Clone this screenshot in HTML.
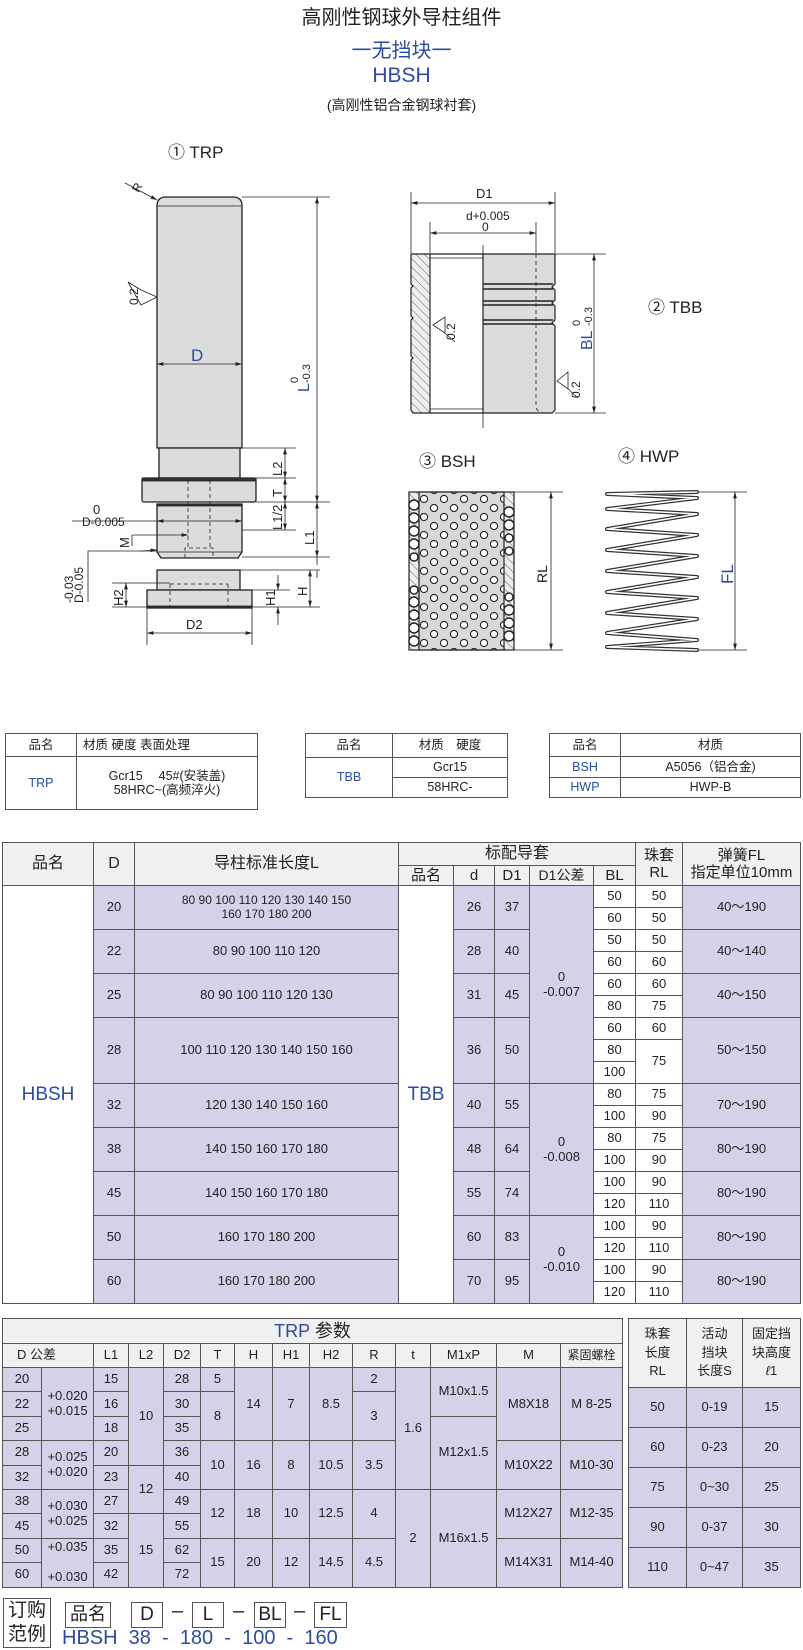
<!DOCTYPE html>
<html><head><meta charset="utf-8">
<style>
*{margin:0;padding:0;box-sizing:border-box}
body{width:803px;height:1650px;background:#fff;position:relative;overflow:hidden;font-family:"Liberation Sans","Noto Sans CJK SC",sans-serif;color:#222}
.t{position:absolute;left:0;width:803px;text-align:center;white-space:nowrap}
.blue{color:#2b4d9c}
table{position:absolute;border-collapse:collapse;table-layout:fixed;font-family:"Liberation Sans Narrow","Liberation Sans","Noto Sans CJK SC",sans-serif}
td{border:1px solid #555;text-align:center;vertical-align:middle;padding:0;overflow:hidden;white-space:nowrap;line-height:1.15}
.p{background:#d5d1e8}
.h{background:#f0f0f0}
.box{position:absolute;border:1.5px solid #555;text-align:center;font-family:"Liberation Sans Narrow","Liberation Sans","Noto Sans CJK SC",sans-serif}
</style></head><body>

<div class="t" style="top:1px;font-size:20px">高刚性钢球外导柱组件</div>
<div class="t blue" style="top:34px;font-size:20px">一无挡块一</div>
<div class="t blue" style="top:64px;font-size:21px">HBSH</div>
<div class="t" style="top:95px;font-size:14px">(高刚性铝合金钢球衬套)</div>

<svg style="position:absolute;left:0;top:0" width="803" height="700" viewBox="0 0 803 700" font-family="Liberation Sans, Noto Sans CJK SC, sans-serif">
<defs>
<marker id="a" viewBox="0 0 10 6" refX="10" refY="3" markerWidth="8" markerHeight="5" orient="auto-start-reverse"><path d="M0,0L10,3L0,6Z" fill="#222"/></marker>
<pattern id="hat" width="6" height="6" patternUnits="userSpaceOnUse" patternTransform="rotate(-45)"><rect width="6" height="6" fill="#eee"/><line x1="0" y1="0" x2="0" y2="6" stroke="#666" stroke-width="1"/></pattern>
<pattern id="holes" width="20" height="18" patternUnits="userSpaceOnUse" x="419" y="494"><rect width="20" height="18" fill="#d8d8d8"/><circle cx="5" cy="5" r="3.6" fill="#fff" stroke="#222" stroke-width="1.1"/><circle cx="15" cy="14" r="3.6" fill="#fff" stroke="#222" stroke-width="1.1"/></pattern>
</defs>
<g stroke="#222" stroke-width="0.8" fill="none">
<!-- TRP -->
<path d="M157,448V206Q157,197 166,197H233Q242,197 242,206V448Z" fill="#dcdcdc" stroke-width="1.3"/>
<line x1="157" y1="206" x2="242" y2="206"/>
<rect x="159" y="448" width="81" height="30" fill="#dcdcdc" stroke-width="1.3"/>
<rect x="142" y="478" width="114" height="24" rx="2" fill="#dcdcdc" stroke-width="1.3"/>
<rect x="142" y="478" width="114" height="3" fill="#333"/>
<path d="M157,504H242V552L238,558H161L157,552Z" fill="#dcdcdc" stroke-width="1.3"/>
<rect x="157" y="504" width="85" height="2" fill="#333"/>
<line x1="157" y1="552" x2="242" y2="552"/>
<g stroke-dasharray="4,3"><line x1="188" y1="480" x2="188" y2="548"/><line x1="210" y1="480" x2="210" y2="548"/><path d="M185,558V548H213V558"/><line x1="170" y1="582" x2="228" y2="582"/><line x1="170" y1="582" x2="170" y2="607"/><line x1="228" y1="582" x2="228" y2="607"/><line x1="184" y1="570" x2="184" y2="582"/><line x1="214" y1="570" x2="214" y2="582"/></g>
<rect x="157" y="570" width="83" height="20" fill="#dcdcdc" stroke-width="1.3"/>
<rect x="147" y="590" width="105" height="18" fill="#dcdcdc" stroke-width="1.3"/>
<rect x="147" y="606" width="105" height="2" fill="#333"/>
<g stroke-dasharray="4,3"><line x1="170" y1="584" x2="228" y2="584"/><line x1="170" y1="584" x2="170" y2="607"/><line x1="228" y1="584" x2="228" y2="607"/></g>
<!-- dims TRP -->
<line x1="242" y1="197" x2="330" y2="197"/>
<line x1="317" y1="197" x2="317" y2="502" marker-start="url(#a)" marker-end="url(#a)"/>
<line x1="240" y1="448" x2="296" y2="448"/><line x1="256" y1="478" x2="296" y2="478"/><line x1="256" y1="502" x2="330" y2="502"/>
<line x1="242" y1="530" x2="296" y2="530"/><line x1="242" y1="557" x2="330" y2="557"/>
<line x1="285" y1="448" x2="285" y2="478" marker-start="url(#a)" marker-end="url(#a)"/>
<line x1="285" y1="478" x2="285" y2="502" marker-start="url(#a)" marker-end="url(#a)"/>
<line x1="285" y1="502" x2="285" y2="530" marker-start="url(#a)" marker-end="url(#a)"/>
<line x1="317" y1="502" x2="317" y2="557" marker-start="url(#a)" marker-end="url(#a)"/>
<line x1="317" y1="557" x2="317" y2="565" /><line x1="317" y1="570" x2="317" y2="578"/>
<line x1="240" y1="570" x2="320" y2="570"/><line x1="252" y1="607" x2="320" y2="607"/><line x1="240" y1="590" x2="290" y2="590"/>
<line x1="310" y1="570" x2="310" y2="607" marker-start="url(#a)" marker-end="url(#a)"/>
<line x1="278" y1="575" x2="278" y2="590" marker-end="url(#a)"/><line x1="278" y1="625" x2="278" y2="607" marker-end="url(#a)"/>
<line x1="112" y1="583" x2="170" y2="583"/><line x1="112" y1="607" x2="147" y2="607"/>
<line x1="126" y1="583" x2="126" y2="607" marker-start="url(#a)" marker-end="url(#a)"/>
<line x1="147" y1="608" x2="147" y2="645"/><line x1="252" y1="608" x2="252" y2="645"/>
<line x1="147" y1="633" x2="252" y2="633" marker-start="url(#a)" marker-end="url(#a)"/>
<line x1="157" y1="364" x2="242" y2="364" marker-start="url(#a)" marker-end="url(#a)"/>
<line x1="72" y1="521" x2="157" y2="521"/><line x1="157" y1="521" x2="242" y2="521" marker-start="url(#a)" marker-end="url(#a)"/>
<line x1="132" y1="546" x2="132" y2="535"/><line x1="132" y1="535" x2="188" y2="535" marker-end="url(#a)"/>
<path d="M88,602V551H157" /><line x1="140" y1="551" x2="157" y2="550" marker-end="url(#a)"/>
<line x1="125" y1="183" x2="157" y2="200" marker-end="url(#a)"/>
<path d="M128,282L141,290L157,297L141,305Z"/>
</g>
<g font-size="13" fill="#222">
<text x="168" y="158" font-size="17">① TRP</text>
<text x="132" y="190" transform="rotate(-60 138 186)" font-size="12">R</text>
<text transform="translate(138,305) rotate(-90)" font-size="12">0.2</text>
<text x="191" y="361" font-size="17" fill="#2b4d9c">D</text>
<text transform="translate(309,392) rotate(-90)" font-size="16" fill="#2b4d9c">L</text>
<text transform="translate(298,383) rotate(-90)" font-size="11">0</text>
<text transform="translate(310,383) rotate(-90)" font-size="11">-0.3</text>
<text transform="translate(282,476) rotate(-90)">L2</text>
<text transform="translate(282,497) rotate(-90)">T</text>
<text transform="translate(282,530) rotate(-90)">L1/2</text>
<text transform="translate(314,545) rotate(-90)">L1</text>
<text transform="translate(307,596) rotate(-90)">H</text>
<text transform="translate(275,606) rotate(-90)">H1</text>
<text transform="translate(123,606) rotate(-90)">H2</text>
<text x="186" y="629">D2</text>
<text x="93" y="514">0</text>
<text x="82" y="526" font-size="12">D-0.005</text>
<text transform="translate(129,548) rotate(-90)">M</text>
<text transform="translate(73,603) rotate(-90)" font-size="12">-0.03</text>
<text transform="translate(83,603) rotate(-90)" font-size="12">D-0.05</text>
</g>

<!-- TBB -->
<g stroke="#222" stroke-width="0.8" fill="none">
<line x1="411" y1="192" x2="411" y2="253"/><line x1="555" y1="192" x2="555" y2="253"/>
<line x1="411" y1="203" x2="555" y2="203" marker-start="url(#a)" marker-end="url(#a)"/>
<line x1="430" y1="222" x2="430" y2="253"/><line x1="536" y1="222" x2="536" y2="253"/>
<line x1="430" y1="233" x2="536" y2="233" marker-start="url(#a)" marker-end="url(#a)"/>
<path d="M411,254H430V413H413L411,410V360L413,358L411,356V320L413,318L411,316V288L413,286L411,284V254Z" fill="url(#hat)" stroke-width="1.2"/>
<path d="M430,254H483M430,413H483" stroke-width="1.2"/>
<line x1="430" y1="258" x2="483" y2="258"/><line x1="430" y1="409" x2="483" y2="409"/>
<path d="M483,254H555V284L552,287L555,290V300L552,303L555,306V320L552,323L555,326V410L552,413H483Z" fill="#dcdcdc" stroke-width="1.2"/>
<g stroke-width="1.4"><line x1="483" y1="284" x2="553" y2="284"/><line x1="483" y1="289" x2="553" y2="289"/><line x1="483" y1="301" x2="553" y2="301"/><line x1="483" y1="305" x2="553" y2="305"/><line x1="483" y1="320" x2="553" y2="320"/><line x1="483" y1="324" x2="553" y2="324"/></g>
<line x1="483" y1="245" x2="483" y2="428"/>
<path d="M536,254V405Q536,413 544,413" stroke-dasharray="4,3"/>
<line x1="555" y1="254" x2="606" y2="254"/><line x1="555" y1="413" x2="606" y2="413"/>
<line x1="594" y1="254" x2="594" y2="413" marker-start="url(#a)" marker-end="url(#a)"/>
<path d="M433,325L445,317L445,333Z M445,333L455,342"/>
<path d="M557,381L568,372L568,389Z M568,389L578,398"/>
<!-- BSH -->
<rect x="409" y="492" width="105" height="158" fill="url(#hat)" stroke-width="1.2"/>
<rect x="419" y="492" width="85" height="158" fill="url(#holes)" stroke-width="1.2"/>
<line x1="514" y1="492" x2="563" y2="492"/><line x1="514" y1="650" x2="563" y2="650"/>
<line x1="551" y1="492" x2="551" y2="650" marker-start="url(#a)" marker-end="url(#a)"/>
<g fill="#fff" stroke-width="1.4">
<circle cx="414" cy="505" r="5"/><circle cx="414" cy="518" r="5"/><circle cx="414" cy="531" r="5"/><circle cx="414" cy="544" r="5"/><circle cx="414" cy="557" r="4"/>
<circle cx="414" cy="590" r="4"/><circle cx="414" cy="602" r="5"/><circle cx="414" cy="615" r="5"/><circle cx="414" cy="628" r="5"/><circle cx="414" cy="641" r="5"/>
<circle cx="509" cy="512" r="5"/><circle cx="509" cy="525" r="5"/><circle cx="509" cy="538" r="4"/><circle cx="509" cy="551" r="4"/>
<circle cx="509" cy="597" r="4"/><circle cx="509" cy="610" r="5"/><circle cx="509" cy="623" r="5"/><circle cx="509" cy="636" r="5"/>
</g>
<!-- HWP -->
<line x1="697" y1="492" x2="747" y2="492"/><line x1="697" y1="650" x2="747" y2="650"/>
<line x1="735" y1="492" x2="735" y2="650" marker-start="url(#a)" marker-end="url(#a)"/>
<polyline points="697,492 607,494 697,498 607,509 697,514 607,529 697,535 607,550 697,556 607,571 697,577 607,592 697,598 607,613 697,619 607,633 697,640 607,647 697,650" stroke="#333" stroke-width="4" stroke-linejoin="round" stroke-linecap="round"/>
<polyline points="697,492 607,494 697,498 607,509 697,514 607,529 697,535 607,550 697,556 607,571 697,577 607,592 697,598 607,613 697,619 607,633 697,640 607,647 697,650" stroke="#fff" stroke-width="1.6" stroke-linejoin="round" stroke-linecap="round"/>
</g>
<g font-size="13" fill="#222">
<text x="476" y="198">D1</text>
<text x="466" y="220" font-size="12">d+0.005</text>
<text x="482" y="231" font-size="12">0</text>
<text transform="translate(455,340) rotate(-90)" font-size="12">0.2</text>
<text transform="translate(580,398) rotate(-90)" font-size="12">0.2</text>
<text transform="translate(592,350) rotate(-90)" font-size="16" fill="#2b4d9c">BL</text>
<text transform="translate(580,326) rotate(-90)" font-size="11">0</text>
<text transform="translate(592,326) rotate(-90)" font-size="11">-0.3</text>
<text x="648" y="313" font-size="17">② TBB</text>
<text x="419" y="467" font-size="17">③ BSH</text>
<text x="618" y="462" font-size="17">④ HWP</text>
<text transform="translate(547,583) rotate(-90)" font-size="14">RL</text>
<text transform="translate(733,584) rotate(-90)" font-size="17" fill="#2b4d9c">FL</text>
</g>
</svg>

<!-- small tables -->
<table style="left:5px;top:733px;width:252px;font-size:12.5px">
<col style="width:71px"><col style="width:181px">
<tr style="height:23px" class="h"><td style="background:#fff">品名</td><td style="background:#fff;text-align:left;padding-left:6px">材质 硬度 表面处理</td></tr>
<tr style="height:53px"><td class="blue">TRP</td><td>Gcr15　 45#(安装盖)<br>58HRC~(高频淬火)</td></tr>
</table>
<table style="left:305px;top:733px;width:202px;font-size:12.5px">
<col style="width:87px"><col style="width:115px">
<tr style="height:24px"><td>品名</td><td>材质　硬度</td></tr>
<tr style="height:20px"><td rowspan="2" class="blue">TBB</td><td>Gcr15</td></tr>
<tr style="height:20px"><td>58HRC-</td></tr>
</table>
<table style="left:549px;top:733px;width:251px;font-size:12.5px">
<col style="width:71px"><col style="width:180px">
<tr style="height:23px"><td>品名</td><td>材质</td></tr>
<tr style="height:21px"><td class="blue">BSH</td><td>A5056（铝合金)</td></tr>
<tr style="height:20px"><td class="blue">HWP</td><td>HWP-B</td></tr>
</table>

<!-- main table -->
<table style="left:2px;top:842px;width:798px;font-size:13px">
<col style="width:91px"><col style="width:41px"><col style="width:264px"><col style="width:55px"><col style="width:41px"><col style="width:35px"><col style="width:64px"><col style="width:42px"><col style="width:47px"><col style="width:118px">
<tr style="height:23px" class="h"><td rowspan="2" style="font-size:16px">品名</td><td rowspan="2" style="font-size:16px">D</td><td rowspan="2" style="font-size:16px">导柱标准长度L</td><td colspan="5" style="font-size:16px">标配导套</td><td rowspan="2" style="font-size:15px">珠套<br>RL</td><td rowspan="2" style="font-size:15px">弹簧FL<br>指定单位10mm</td></tr>
<tr style="height:20px" class="h"><td style="font-size:15px">品名</td><td style="font-size:15px">d</td><td style="font-size:15px">D1</td><td style="font-size:14px">D1公差</td><td style="font-size:15px">BL</td></tr>
<tr style="height:22px"><td rowspan="19" class="blue" style="font-size:19px;background:#fff">HBSH</td><td rowspan="2" class="p">20</td><td rowspan="2" class="p" style="font-size:12px">80 90 100 110 120 130 140 150<br>160 170 180 200</td><td rowspan="19" class="blue" style="font-size:19px">TBB</td><td rowspan="2" class="p">26</td><td rowspan="2" class="p">37</td><td rowspan="9" class="p">0<br>-0.007</td><td>50</td><td>50</td><td rowspan="2" class="p">40～190</td></tr>
<tr style="height:22px"><td>60</td><td>50</td></tr>
<tr style="height:22px"><td rowspan="2" class="p">22</td><td rowspan="2" class="p">80 90 100 110 120</td><td rowspan="2" class="p">28</td><td rowspan="2" class="p">40</td><td>50</td><td>50</td><td rowspan="2" class="p">40～140</td></tr>
<tr style="height:22px"><td>60</td><td>60</td></tr>
<tr style="height:22px"><td rowspan="2" class="p">25</td><td rowspan="2" class="p">80 90 100 110 120 130</td><td rowspan="2" class="p">31</td><td rowspan="2" class="p">45</td><td>60</td><td>60</td><td rowspan="2" class="p">40～150</td></tr>
<tr style="height:22px"><td>80</td><td>75</td></tr>
<tr style="height:22px"><td rowspan="3" class="p">28</td><td rowspan="3" class="p">100 110 120 130 140 150 160</td><td rowspan="3" class="p">36</td><td rowspan="3" class="p">50</td><td>60</td><td>60</td><td rowspan="3" class="p">50～150</td></tr>
<tr style="height:22px"><td>80</td><td rowspan="2">75</td></tr>
<tr style="height:22px"><td>100</td></tr>
<tr style="height:22px"><td rowspan="2" class="p">32</td><td rowspan="2" class="p">120 130 140 150 160</td><td rowspan="2" class="p">40</td><td rowspan="2" class="p">55</td><td rowspan="6" class="p">0<br>-0.008</td><td>80</td><td>75</td><td rowspan="2" class="p">70～190</td></tr>
<tr style="height:22px"><td>100</td><td>90</td></tr>
<tr style="height:22px"><td rowspan="2" class="p">38</td><td rowspan="2" class="p">140 150 160 170 180</td><td rowspan="2" class="p">48</td><td rowspan="2" class="p">64</td><td>80</td><td>75</td><td rowspan="2" class="p">80～190</td></tr>
<tr style="height:22px"><td>100</td><td>90</td></tr>
<tr style="height:22px"><td rowspan="2" class="p">45</td><td rowspan="2" class="p">140 150 160 170 180</td><td rowspan="2" class="p">55</td><td rowspan="2" class="p">74</td><td>100</td><td>90</td><td rowspan="2" class="p">80～190</td></tr>
<tr style="height:22px"><td>120</td><td>110</td></tr>
<tr style="height:22px"><td rowspan="2" class="p">50</td><td rowspan="2" class="p">160 170 180 200</td><td rowspan="2" class="p">60</td><td rowspan="2" class="p">83</td><td rowspan="4" class="p">0<br>-0.010</td><td>100</td><td>90</td><td rowspan="2" class="p">80～190</td></tr>
<tr style="height:22px"><td>120</td><td>110</td></tr>
<tr style="height:22px"><td rowspan="2" class="p">60</td><td rowspan="2" class="p">160 170 180 200</td><td rowspan="2" class="p">70</td><td rowspan="2" class="p">95</td><td>100</td><td>90</td><td rowspan="2" class="p">80～190</td></tr>
<tr style="height:22px"><td>120</td><td>110</td></tr>
</table>

<!-- TRP param table -->
<table style="left:2px;top:1318px;width:620px;font-size:13px">
<col style="width:39px"><col style="width:52px"><col style="width:35px"><col style="width:35px"><col style="width:37px"><col style="width:34px"><col style="width:38px"><col style="width:37px"><col style="width:43px"><col style="width:43px"><col style="width:35px"><col style="width:66px"><col style="width:64px"><col style="width:62px">
<tr style="height:25px" class="h"><td colspan="14" style="font-size:18px"><span class="blue">TRP</span> 参数</td></tr>
<tr style="height:24px" class="h"><td colspan="2" style="text-align:left;padding-left:14px">D 公差</td><td>L1</td><td>L2</td><td>D2</td><td>T</td><td>H</td><td>H1</td><td>H2</td><td>R</td><td>t</td><td>M1xP</td><td>M</td><td style="font-size:12px">紧固螺栓</td></tr>
<tr style="height:24.4px" class="p"><td>20</td><td rowspan="3">+0.020<br>+0.015</td><td>15</td><td rowspan="4">10</td><td>28</td><td>5</td><td rowspan="3">14</td><td rowspan="3">7</td><td rowspan="3">8.5</td><td>2</td><td rowspan="5">1.6</td><td rowspan="2">M10x1.5</td><td rowspan="3">M8X18</td><td rowspan="3">M 8-25</td></tr>
<tr style="height:24.4px" class="p"><td>22</td><td>16</td><td>30</td><td rowspan="2">8</td><td rowspan="2">3</td></tr>
<tr style="height:24.4px" class="p"><td>25</td><td>18</td><td>35</td><td rowspan="3">M12x1.5</td></tr>
<tr style="height:24.4px" class="p"><td>28</td><td rowspan="2">+0.025<br>+0.020</td><td>20</td><td>36</td><td rowspan="2">10</td><td rowspan="2">16</td><td rowspan="2">8</td><td rowspan="2">10.5</td><td rowspan="2">3.5</td><td rowspan="2">M10X22</td><td rowspan="2">M10-30</td></tr>
<tr style="height:24.4px" class="p"><td>32</td><td>23</td><td rowspan="2">12</td><td>40</td></tr>
<tr style="height:24.4px" class="p"><td>38</td><td rowspan="2">+0.030<br>+0.025</td><td>27</td><td>49</td><td rowspan="2">12</td><td rowspan="2">18</td><td rowspan="2">10</td><td rowspan="2">12.5</td><td rowspan="2">4</td><td rowspan="4">2</td><td rowspan="4">M16x1.5</td><td rowspan="2">M12X27</td><td rowspan="2">M12-35</td></tr>
<tr style="height:24.4px" class="p"><td>45</td><td>32</td><td rowspan="3">15</td><td>55</td></tr>
<tr style="height:24.4px" class="p"><td>50</td><td rowspan="2">+0.035<br><br>+0.030</td><td>35</td><td>62</td><td rowspan="2">15</td><td rowspan="2">20</td><td rowspan="2">12</td><td rowspan="2">14.5</td><td rowspan="2">4.5</td><td rowspan="2">M14X31</td><td rowspan="2">M14-40</td></tr>
<tr style="height:24.4px" class="p"><td>60</td><td>42</td><td>72</td></tr>
</table>

<table style="left:628px;top:1318px;width:172px;font-size:13px">
<col style="width:58px"><col style="width:56px"><col style="width:58px">
<tr style="height:69px" class="h"><td style="line-height:1.45">珠套<br>长度<br>RL</td><td style="line-height:1.45">活动<br>挡块<br>长度S</td><td style="line-height:1.45">固定挡<br>块高度<br><i>ℓ</i>1</td></tr>
<tr style="height:40px" class="p"><td>50</td><td>0-19</td><td>15</td></tr>
<tr style="height:40px" class="p"><td>60</td><td>0-23</td><td>20</td></tr>
<tr style="height:40px" class="p"><td>75</td><td>0~30</td><td>25</td></tr>
<tr style="height:40px" class="p"><td>90</td><td>0-37</td><td>30</td></tr>
<tr style="height:40px" class="p"><td>110</td><td>0~47</td><td>35</td></tr>
</table>

<!-- order example -->
<div class="box" style="left:3px;top:1598px;width:48px;height:50px;font-size:19px;line-height:24px">订购<br>范例</div>
<div class="box" style="left:65px;top:1602px;width:46px;height:26px;font-size:18px;line-height:23px">品名</div>
<div class="box" style="left:131px;top:1602px;width:32px;height:26px;font-size:19px;line-height:23px">D</div>
<div style="position:absolute;left:172px;top:1600px;font-size:20px">–</div>
<div class="box" style="left:192px;top:1602px;width:32px;height:26px;font-size:19px;line-height:23px">L</div>
<div style="position:absolute;left:233px;top:1600px;font-size:20px">–</div>
<div class="box" style="left:254px;top:1602px;width:32px;height:26px;font-size:19px;line-height:23px">BL</div>
<div style="position:absolute;left:294px;top:1600px;font-size:20px">–</div>
<div class="box" style="left:314px;top:1602px;width:33px;height:26px;font-size:19px;line-height:23px">FL</div>
<div class="blue" style="position:absolute;left:62px;top:1627px;font-size:20px;white-space:pre;font-family:'Liberation Sans Narrow','Liberation Sans',sans-serif">HBSH  38  -  180  -  100  -  160</div>
</body></html>
